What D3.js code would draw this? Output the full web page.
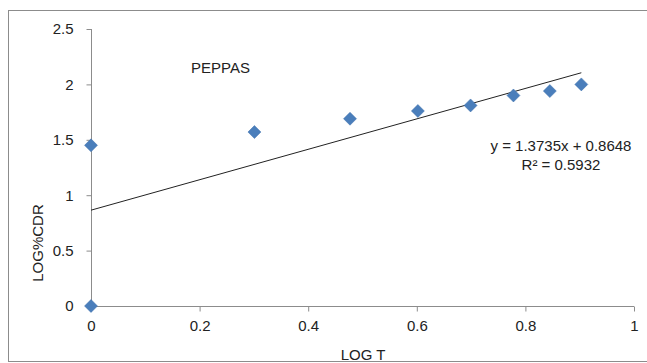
<!DOCTYPE html>
<html><head><meta charset="utf-8">
<script src="https://cdn.jsdelivr.net/npm/d3@7"></script>
<style>body{margin:0;background:#fff}svg{display:block}text{font-family:"Liberation Sans","Open Sans",sans-serif;fill:#222}</style>
</head><body><svg id="c" width="647" height="363"></svg>
<script>
const xValues = [0, 0, 0.301, 0.477, 0.602, 0.699, 0.778, 0.845, 0.903];
const yValues = [0, 1.45, 1.57, 1.69, 1.76, 1.81, 1.90, 1.94, 2.00];
const xTicks = [0, 0.2, 0.4, 0.6, 0.8, 1];
const yTicks = [0, 0.5, 1, 1.5, 2, 2.5];
const trendSlope = 1.3735, trendIntercept = 0.8648;
const trendRange = [0, 0.903];
const title = "PEPPAS";
const eqLines = ["y = 1.3735x + 0.8648", "R² = 0.5932"];

const FS = 15;
const svg = d3.select("#c");
svg.append("rect").attr("x",8.5).attr("y",10.5).attr("width",645).attr("height",351)
  .attr("fill","#fff").attr("stroke","#8c8c8c").attr("stroke-width",1);

const x = d3.scaleLinear().domain([0,1]).range([91,634]);
const y = d3.scaleLinear().domain([0,2.5]).range([306,29]);

const gx = svg.append("g").attr("transform","translate(0,306.5)")
  .call(d3.axisBottom(x).tickValues(xTicks).tickSize(5).tickPadding(9).tickFormat(d=>String(d)));
const gy = svg.append("g").attr("transform","translate(91.5,0)")
  .call(d3.axisLeft(y).tickValues(yTicks).tickSize(5).tickPadding(13).tickFormat(d=>String(d)));
[gx,gy].forEach(g=>{
  g.selectAll("path,line").attr("stroke","#8c8c8c");
  g.selectAll("text").attr("font-size",FS).attr("fill","#222").style("font-family",'"Liberation Sans",sans-serif');
});
gx.select(".domain").attr("d",`M${x(0)},0H${x(1)}`);
gy.select(".domain").attr("d",`M0,${y(0)}V${y(2.5)}`);

// trendline
svg.append("line")
  .attr("x1",x(trendRange[0])).attr("y1",y(trendIntercept+trendSlope*trendRange[0]))
  .attr("x2",x(trendRange[1])).attr("y2",y(trendIntercept+trendSlope*trendRange[1]))
  .attr("stroke","#222").attr("stroke-width",1);

// markers
const pts = xValues.map((v,i)=>[v,yValues[i]]);
svg.append("g").selectAll("path").data(pts).join("path")
  .attr("transform",d=>`translate(${x(d[0])},${y(d[1])})`)
  .attr("d","M0,-6.5L6.5,0L0,6.5L-6.5,0Z")
  .attr("fill","#4a7ebb").attr("stroke","#3f71ad").attr("stroke-width",0.5);

svg.append("text").attr("x",191).attr("y",73).attr("font-size",FS).text(title);
eqLines.forEach((t,i)=>svg.append("text").attr("x",561).attr("y",151+i*19)
  .attr("text-anchor","middle").attr("font-size",FS).text(t));

svg.append("text").attr("x",363).attr("y",360).attr("text-anchor","middle").attr("font-size",FS).text("LOG T");
svg.append("text").attr("transform","translate(43,243) rotate(-90)").attr("text-anchor","middle").attr("font-size",FS).text("LOG%CDR");
</script></body></html>
